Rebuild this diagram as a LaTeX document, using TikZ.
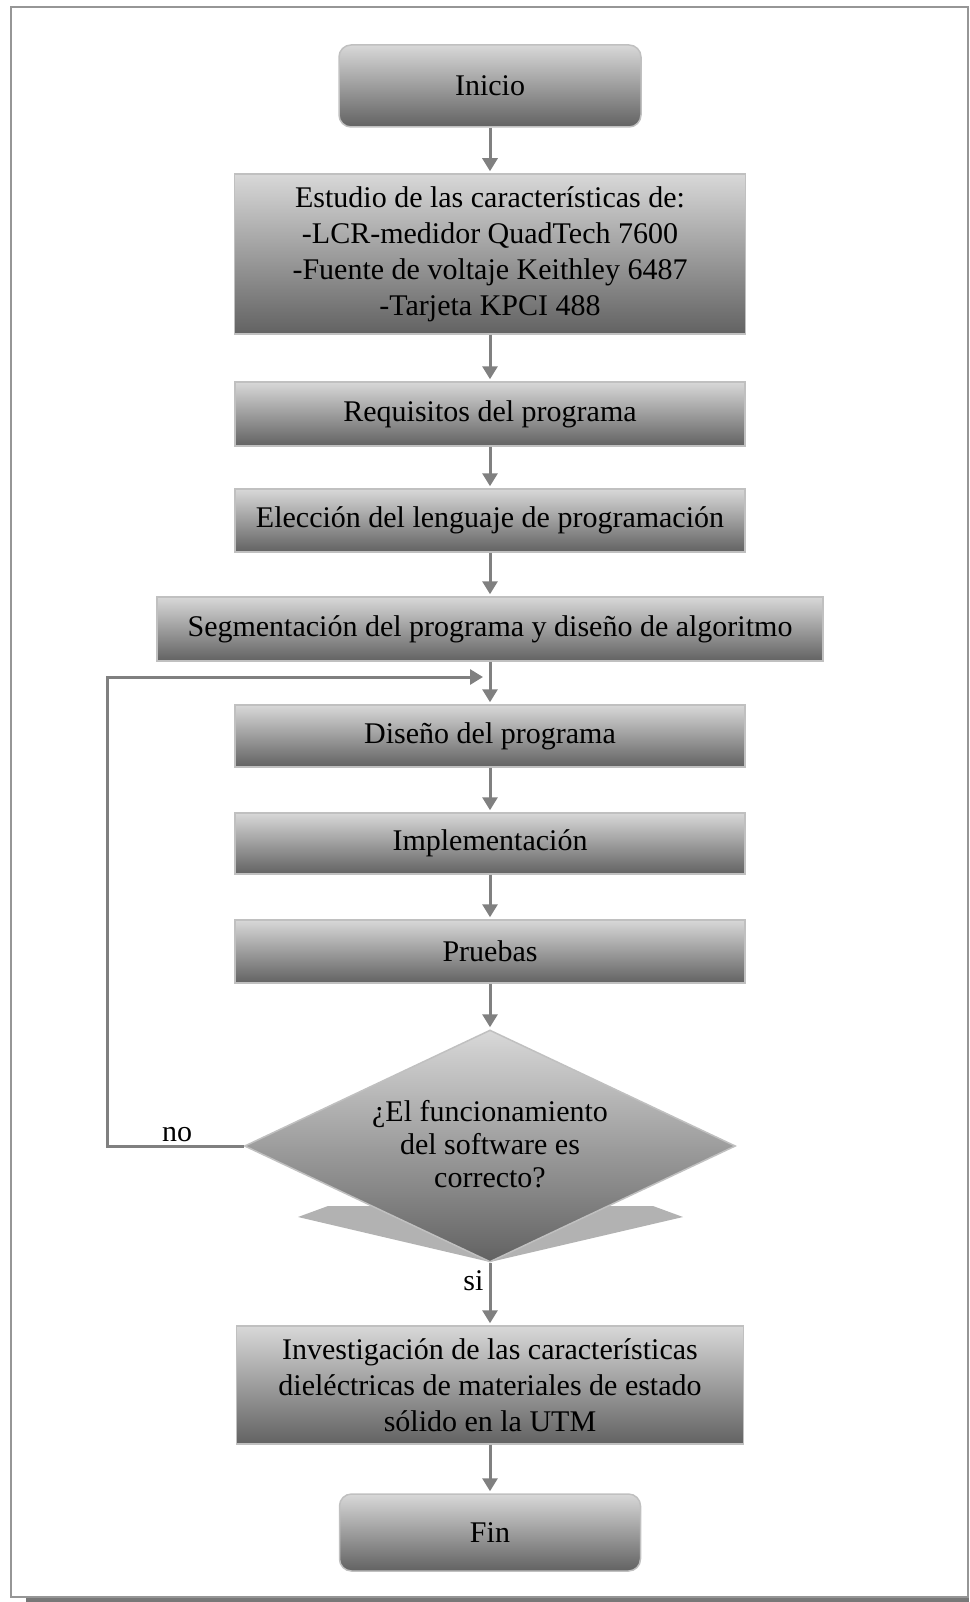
\documentclass[tikz,border=0pt]{standalone}
\usepackage{fontspec}
\setmainfont{Liberation Serif}
\usetikzlibrary{shapes.geometric,arrows.meta}
\definecolor{shadetop}{RGB}{216,216,216}
\definecolor{shadebot}{RGB}{98,98,98}
\definecolor{boxedge}{RGB}{192,192,192}
\definecolor{arrowgray}{RGB}{128,128,128}
\definecolor{framegray}{RGB}{150,150,150}
\definecolor{hatchgray}{RGB}{178,178,178}
\begin{document}
\begin{tikzpicture}[x=1pt,y=-1pt,
  txt/.style={font=\fontsize{30}{36}\selectfont},
  box/.style={txt, draw=boxedge, line width=1.5pt, top color=shadetop,
    bottom color=shadebot, align=center, inner sep=0pt},
  termbox/.style={box, rounded corners=12pt},
  decision/.style={box, diamond, shape aspect=2.1},
  arr/.style={draw=arrowgray, line width=3pt,
    -{Triangle[width=15pt,length=13pt]}, shorten >=2pt}
]
\useasboundingbox (0,0) rectangle (969,1602);

% page frame with its shaded lower edge
\draw[framegray, line width=2pt] (11,7) rectangle (968,1597);
\fill[framegray!80!black] (26,1598) rectangle (969,1602);

% process steps
\node[termbox, minimum width=302pt, minimum height=82pt] (ini) at (490,86) {Inicio};
\node[box, minimum width=511pt, minimum height=160pt] (est) at (490,254)
  {Estudio de las características de:\\-LCR-medidor QuadTech 7600\\-Fuente de voltaje Keithley 6487\\-Tarjeta KPCI 488};
\node[box, minimum width=510pt, minimum height=64pt] (req) at (490,414) {Requisitos del programa};
\node[box, minimum width=510pt, minimum height=63pt] (ele) at (490,520.5) {Elección del lenguaje de programación};
\node[box, minimum width=666pt, minimum height=64pt] (seg) at (490,629) {Segmentación del programa y diseño de algoritmo};
\node[box, minimum width=510pt, minimum height=62pt] (dis) at (490,736) {Diseño del programa};
\node[box, minimum width=510pt, minimum height=61pt] (imp) at (490,843.5) {Implementación};
\node[box, minimum width=510pt, minimum height=63pt] (pru) at (490,951.5) {Pruebas};

% shadow under the decision
\fill[hatchgray] (298,1217) -- (328,1206) -- (653,1206) -- (683,1217) -- (490,1262) -- cycle;
\node[decision, minimum width=491pt, minimum height=232pt] (dq) at (490,1146) {};
\node[font=\fontsize{30}{33}\selectfont, align=center] (dqt) at (490,1144) {¿El funcionamiento\\del software es\\correcto?};

\node[box, minimum width=507pt, minimum height=118pt] (inv) at (490,1385)
  {Investigación de las características\\dieléctricas de materiales de estado\\sólido en la UTM};
\node[termbox, minimum width=301pt, minimum height=77pt] (fin) at (490,1532.5) {Fin};

% connectors
\draw[arr] (ini.south) -- (est.north);
\draw[arr] (est.south) -- (req.north);
\draw[arr] (req.south) -- (ele.north);
\draw[arr] (ele.south) -- (seg.north);
\draw[arr] (seg.south) -- (dis.north);
\draw[arr] (dis.south) -- (imp.north);
\draw[arr] (imp.south) -- (pru.north);
\draw[arr] (pru.south) -- (dq.north);
\draw[arr] (dq.south) -- (inv.north);
\draw[arr] (inv.south) -- (fin.north);

% loop back when the test fails
\coordinate (back) at (485,677);
\draw[arr] (dq.west) -- (107,1146) |- (back);

% branch labels
\node[txt, anchor=base] (no) at (177,1141) {no};
\node[txt, anchor=base east] (si) at (487,1290) {si};
\end{tikzpicture}
\end{document}
